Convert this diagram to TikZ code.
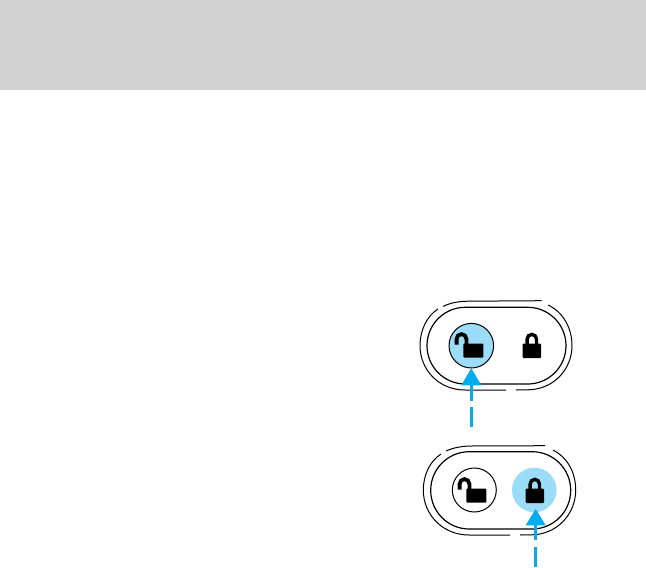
\documentclass[tikz,border=0pt]{standalone}
\definecolor{hdr}{HTML}{D2D2D2}
\definecolor{btn}{HTML}{9BDDF8}
\definecolor{arw}{HTML}{00AEEF}
\tikzset{
  x=1pt,y=-1pt,
  ol/.style={draw=black,line width=1.2pt},
  ol2/.style={draw=black,line width=1pt},
  btnring/.style={draw=black,line width=1pt},
  shaft/.style={draw=arw,line width=3pt},
  tiphead/.style={fill=arw},
  pics/closedlock/.style={code={
    \fill[rounded corners=1pt] (-9.2,-0.5) rectangle (9.2,14);
    \draw[line width=3.4pt] (-4.7,1) -- (-4.7,-4.9) arc[start angle=180,end angle=360,radius=4.7] -- (4.7,1);
  }},
  pics/openlock/.style={code={
    \fill[rounded corners=1pt] (-10,-0.5) rectangle (10,13.7);
    \draw[line width=3.8pt] (-6.9,1) -- (-6.9,-5) arc[start angle=0,end angle=-180,radius=4.9] -- (-16.7,0.5);
  }}
}
\begin{document}
\begin{tikzpicture}
\useasboundingbox (0,0) rectangle (646,568);
\fill[hdr] (0,0) rectangle (646,90);

% upper panel
\draw[ol,rounded corners=38.3pt] (427,307.3) rectangle (566,384);
\draw[ol2] (443,306.5) .. controls (452,302) and (460,301.5) .. (468,301.2) -- (541.5,300.7);
\draw[ol2] (548,305) .. controls (563,312) and (572,328) .. (572,345.5) .. controls (572,370) and (553,389.5) .. (528,389.8) -- (516,390);
\draw[ol2] (506,390) -- (465,390) .. controls (439,390) and (420,370) .. (420,345.5) .. controls (420,330) and (427,316) .. (438,309);
\node[circle,minimum size=44.6pt,inner sep=0pt,fill=btn,btnring] (unlockA) at (471.3,345.7) {};
\pic at (473.3,344) {openlock};
\coordinate (lockA) at (531.8,344);
\pic at (lockA) {closedlock};
\coordinate (tipA) at (471.3,368.3);
\coordinate (baseA) at (471.3,385);
\coordinate (gapA) at (471.3,400.7);
\coordinate (dashA) at (471.3,407.3);
\coordinate (endA) at (471.3,427.3);
\draw[shaft] (baseA) -- (gapA);
\draw[shaft] (dashA) -- (endA);
\fill[tiphead] (tipA) -- (461.3,385.3) -- (481.3,385.3) -- cycle;

% lower panel
\draw[ol,rounded corners=38.6pt] (430.7,451.7) rectangle (570.7,529);
\draw[ol2] (446,451) .. controls (455,447) and (463,446.2) .. (471,446) -- (545,445.7);
\draw[ol2] (553,450) .. controls (567,457) and (575.7,472) .. (575.7,490) .. controls (575.7,515) and (556,534.5) .. (532,534.8) -- (520,535);
\draw[ol2] (510,535) -- (469,535) .. controls (443,535) and (423.3,515) .. (423.3,490) .. controls (423.3,475) and (430,461) .. (441,454);
\node[circle,minimum size=44pt,inner sep=0pt,btnring] (unlockB) at (474.3,490) {};
\pic at (476.3,489) {openlock};
\node[circle,minimum size=44.6pt,inner sep=0pt,fill=btn] (lockBtn) at (534.3,490) {};
\coordinate (lockB) at (534.8,489);
\pic at (lockB) {closedlock};
\coordinate (tipB) at (535.7,509);
\coordinate (baseB) at (535.7,525);
\coordinate (gapB) at (535.7,540.3);
\coordinate (dashB) at (535.7,547);
\coordinate (endB) at (535.7,566.7);
\draw[shaft] (baseB) -- (gapB);
\draw[shaft] (dashB) -- (endB);
\fill[tiphead] (tipB) -- (525.7,525.3) -- (545.7,525.3) -- cycle;
\end{tikzpicture}
\end{document}
